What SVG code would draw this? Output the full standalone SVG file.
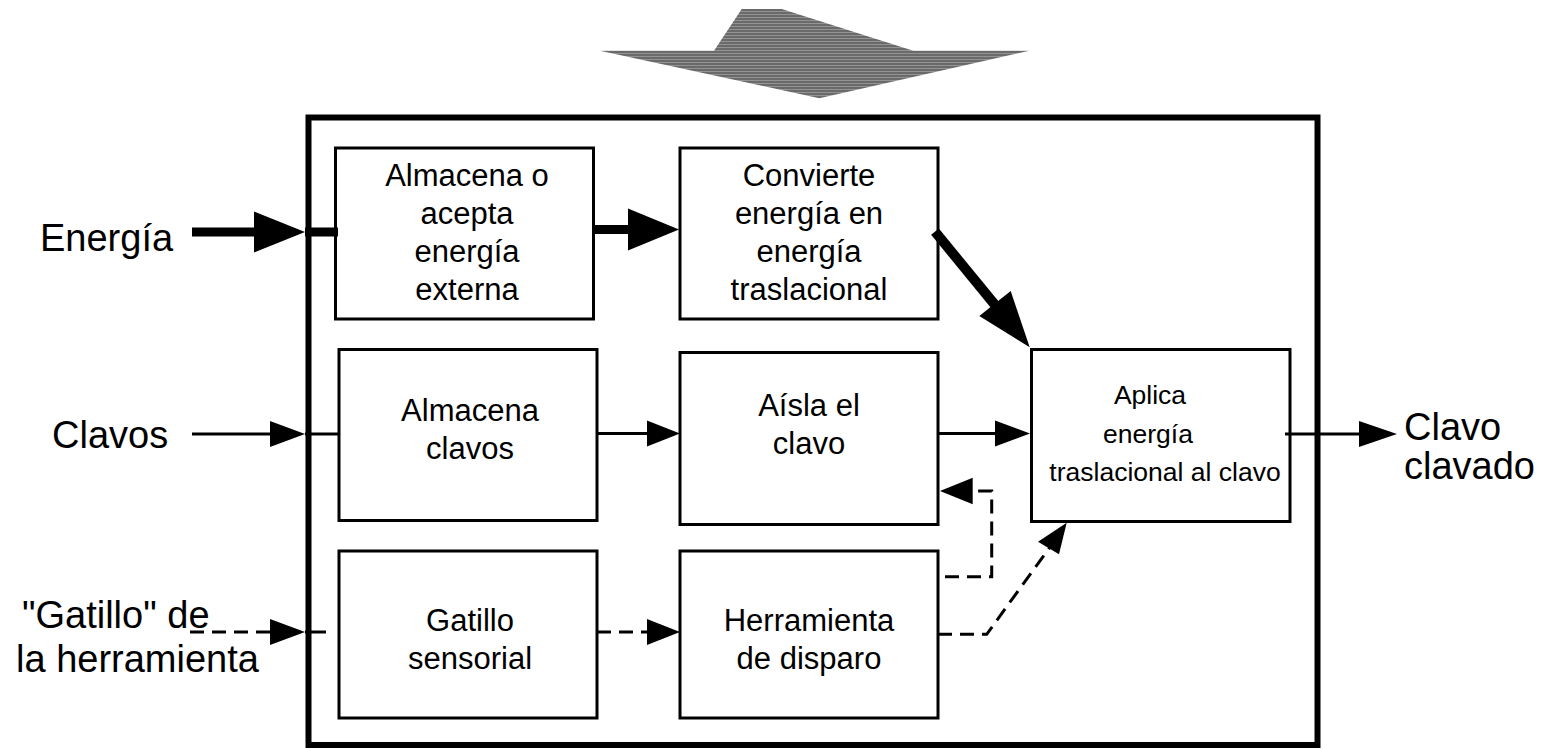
<svg xmlns="http://www.w3.org/2000/svg" width="1545" height="749" viewBox="0 0 1545 749">
<style>
.box{fill:#fff;stroke:#000;stroke-width:3}
.t{font-family:"Liberation Sans",Arial,sans-serif;font-size:31px;fill:#000;text-anchor:middle}
.ta{font-family:"Liberation Sans",Arial,sans-serif;font-size:26.5px;fill:#000;text-anchor:middle}
.lbl{font-family:"Liberation Sans",Arial,sans-serif;font-size:38px;fill:#000}
.thin{stroke:#000;stroke-width:3;fill:none}
.thick{stroke:#000;stroke-width:9;fill:none}
.dash{stroke:#000;stroke-width:3;fill:none;stroke-dasharray:14 8}
.head{fill:#000}
</style>
<defs>
<pattern id="hatch" width="4" height="3" patternUnits="userSpaceOnUse">
<rect width="4" height="3" fill="#6a6a6a"/>
<rect y="2" width="4" height="1" fill="#939393"/>
</pattern>
</defs>
<g id="big-arrow">
<polygon points="741.7,9 781.7,9 913.3,50.7 1029.3,50.7 819.3,98.3 600,50.7 714,50.7" fill="url(#hatch)"/>
</g>
<g id="system">
<rect x="308.5" y="117.5" width="1009" height="627.5" fill="none" stroke="#000" stroke-width="6"/>
</g>
<g id="n1"><rect class="box" x="335.5" y="148" width="258" height="171"/>
<text class="t" x="467" y="186">Almacena o</text><text class="t" x="467" y="224">acepta</text><text class="t" x="467" y="262">energía</text><text class="t" x="467" y="300">externa</text></g>
<g id="n2"><rect class="box" x="680" y="148" width="258" height="171"/>
<text class="t" x="809" y="186">Convierte</text><text class="t" x="809" y="224">energía en</text><text class="t" x="809" y="262">energía</text><text class="t" x="809" y="300">traslacional</text></g>
<g id="n3"><rect class="box" x="339" y="349.5" width="258" height="171"/>
<text class="t" x="470" y="421">Almacena</text><text class="t" x="470" y="459">clavos</text></g>
<g id="n4"><rect class="box" x="680" y="352.5" width="258" height="172"/>
<text class="t" x="809" y="416">Aísla el</text><text class="t" x="809" y="454">clavo</text></g>
<g id="n5"><rect class="box" x="1031.5" y="349.5" width="258.5" height="172"/>
<text class="ta" x="1150" y="404">Aplica</text><text class="ta" x="1148" y="443">energía</text><text class="ta" x="1165" y="481">traslacional al clavo</text></g>
<g id="n6"><rect class="box" x="339" y="551" width="258" height="167"/>
<text class="t" x="470" y="631">Gatillo</text><text class="t" x="470" y="669">sensorial</text></g>
<g id="n7"><rect class="box" x="680" y="551" width="258" height="167"/>
<text class="t" x="809" y="631">Herramienta</text><text class="t" x="809" y="669">de disparo</text></g>
<g id="labels">
<text class="lbl" x="40" y="251">Energía</text>
<text class="lbl" x="52" y="448">Clavos</text>
<text class="lbl" x="22" y="628">"Gatillo" de</text>
<text class="lbl" x="16" y="672">la herramienta</text>
<text class="lbl" x="1404" y="440">Clavo</text>
<text class="lbl" x="1404" y="479">clavado</text>
</g>
<g id="connectors">
<line class="thick" x1="192" y1="232" x2="256" y2="232"/>
<polygon class="head" points="254,211.5 305,232 254,252.5"/>
<line class="thick" x1="305" y1="232" x2="338" y2="232"/>
<line class="thick" x1="592" y1="229.5" x2="630" y2="229.5"/>
<polygon class="head" points="628,208.5 679,229.5 628,250.5"/>
<line x1="935" y1="231.7" x2="1000" y2="311" stroke="#000" stroke-width="10"/>
<polygon class="head" points="979.3,316 1010.7,291 1029.7,347.3"/>
<line class="thin" x1="192" y1="434" x2="272" y2="434"/>
<polygon class="head" points="270,421 305,434 270,447"/>
<line class="thin" x1="305" y1="434" x2="338" y2="434"/>
<line class="thin" x1="596" y1="433.5" x2="649" y2="433.5"/>
<polygon class="head" points="647,420.5 680,433.5 647,446.5"/>
<line class="thin" x1="938" y1="433.5" x2="997" y2="433.5"/>
<polygon class="head" points="995,420.5 1030,433.5 995,446.5"/>
<line class="thin" x1="1285" y1="434" x2="1361" y2="434"/>
<polygon class="head" points="1359,421 1397,434 1359,447"/>
<path class="dash" d="M190,632 H272"/>
<polygon class="head" points="270,619 305,632 270,645"/>
<line class="thin" x1="305" y1="632" x2="326" y2="632"/>
<path class="dash" d="M597,632 H649"/>
<polygon class="head" points="647,619 680,632 647,645"/>
<path class="dash" d="M945,576.7 H991.7 V491 H972"/>
<polygon class="head" points="972.7,477.7 940,491 972.7,504.3"/>
<path class="dash" d="M938,634.3 H986.7 L1050,547"/>
<polygon class="head" points="1038,541.7 1059,554.3 1066.7,522.7"/>
</g>
</svg>
